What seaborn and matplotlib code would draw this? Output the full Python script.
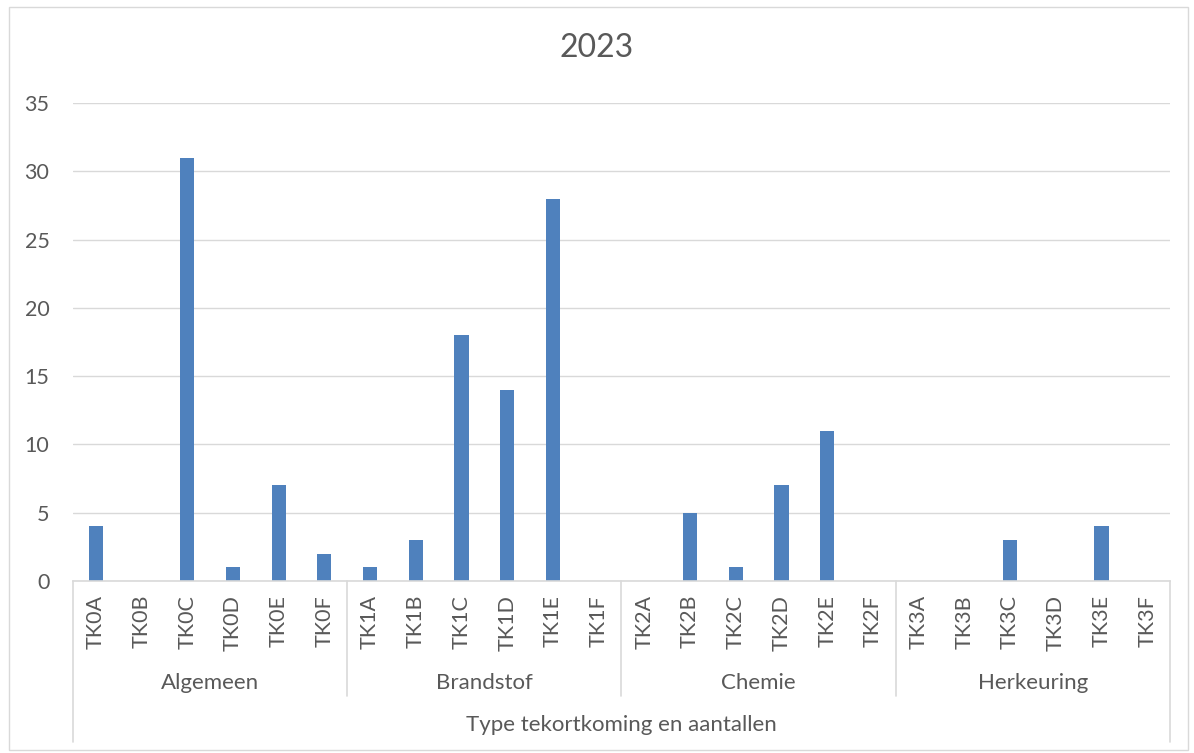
import matplotlib
matplotlib.use("Agg")
import matplotlib.pyplot as plt
import matplotlib.transforms as mtransforms
from matplotlib.patches import Rectangle
import seaborn as sns
import pandas as pd

categories = ["TK0A", "TK0B", "TK0C", "TK0D", "TK0E", "TK0F",
              "TK1A", "TK1B", "TK1C", "TK1D", "TK1E", "TK1F",
              "TK2A", "TK2B", "TK2C", "TK2D", "TK2E", "TK2F",
              "TK3A", "TK3B", "TK3C", "TK3D", "TK3E", "TK3F"]
values = [4, 0, 31, 1, 7, 2,
          1, 3, 18, 14, 28, 0,
          0, 5, 1, 7, 11, 0,
          0, 0, 3, 0, 4, 0]
groups = ["Algemeen", "Brandstof", "Chemie", "Herkeuring"]
group_size = 6
title = "2023"
xlabel = "Type tekortkoming en aantallen"

sns.set_theme(style="white")
plt.rcParams['font.family'] = ['Lato', 'DejaVu Sans']

W, H = 1194, 753
fig = plt.figure(figsize=(W / 100, H / 100), dpi=100)
ax = fig.add_axes([73 / W, (H - 581) / H, 1097 / W, (581 - 103) / H])

df = pd.DataFrame({"cat": categories, "val": values})
sns.barplot(data=df, x="cat", y="val", color="#4F81BD", width=0.31,
            saturation=1, ax=ax, order=categories, linewidth=0)

FS = 15.5
ax.set_ylim(0, 35)
ax.set_yticks(range(0, 36, 5))
ax.set_xlim(-0.5, len(categories) - 0.5)
ax.yaxis.grid(True, color="#d9d9d9", linewidth=1)
ax.set_axisbelow(True)
for s in ["left", "right", "top"]:
    ax.spines[s].set_visible(False)
ax.spines["bottom"].set_color("#d9d9d9")
ax.spines["bottom"].set_linewidth(1.2)
ax.tick_params(axis="both", length=0, colors="#595959", labelsize=FS)
ax.tick_params(axis="x", pad=10, labelrotation=90)
ax.tick_params(axis="y", pad=17)
ax.set_xlabel("")
ax.set_ylabel("")

trans = mtransforms.blended_transform_factory(ax.transData, ax.transAxes)
n_groups = len(groups)
for i in range(n_groups + 1):
    xb = i * group_size - 0.5
    outer = (i == 0 or i == n_groups)
    y_end = (581 - 742) / 478 if outer else (581 - 696) / 478
    ax.plot([xb, xb], [0, y_end], transform=trans, color="#d9d9d9",
            linewidth=1.2, clip_on=False)
for i, g in enumerate(groups):
    xc = i * group_size + (group_size - 1) / 2
    ax.text(xc, (581 - 683) / 478, g, transform=trans, ha="center",
            va="center", fontsize=16, color="#595959")
ax.text(0.5, (581 - 725) / 478, xlabel, transform=ax.transAxes,
        ha="center", va="center", fontsize=16, color="#595959")

fig.text(0.5, 1 - 48 / H, title, ha="center", va="center",
         fontsize=23, color="#595959")

fig.patches.append(Rectangle((9 / W, 3 / H), (1188 - 9) / W, (748 - 5) / H,
                             transform=fig.transFigure, fill=False,
                             edgecolor="#d9d9d9", linewidth=1))

fig.savefig("out.png", dpi=100)
